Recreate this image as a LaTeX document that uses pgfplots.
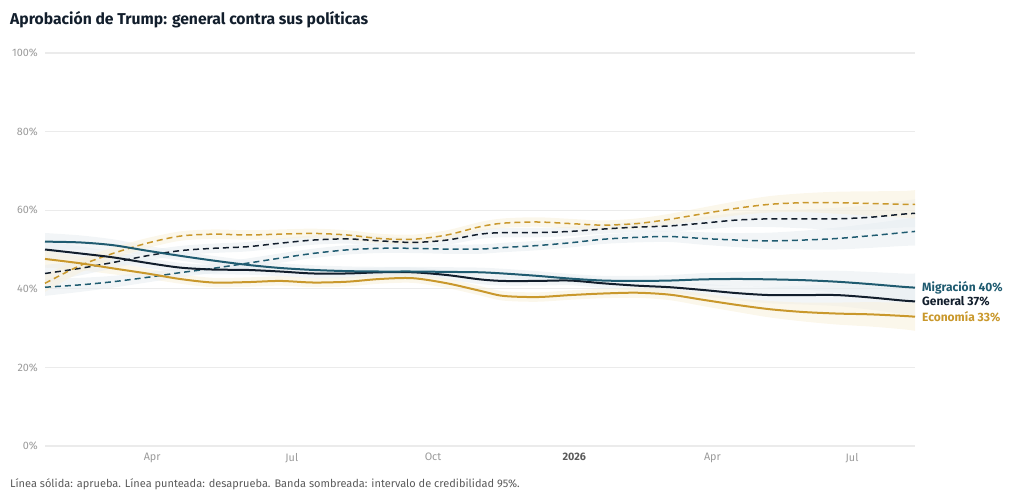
\documentclass[border=0pt]{standalone}
\usepackage{pgfplots}
\pgfplotsset{compat=1.18}
\usepackage{pgfplotstable}
\usepgfplotslibrary{fillbetween}
\usepackage{fontspec}
\setmainfont{Fira Sans}
\definecolor{teal}{HTML}{1F5B70}
\definecolor{navy}{HTML}{121E2C}
\definecolor{gold}{HTML}{C9982C}
\definecolor{gridc}{HTML}{EBEBEB}
\definecolor{tickc}{HTML}{9A9A9A}
\definecolor{footc}{HTML}{5A5A5A}
\definecolor{bandb}{HTML}{E6ECF0}
\definecolor{bandg}{HTML}{F8EFD8}

\pgfplotstableread{
d     mig  gen  eco  migd gend ecod w
20.2  52.0 50.0 47.6 40.4 43.9 41.4 2.2
43.0  51.8 49.0 46.5 41.0 45.2 45.9 1.8
64.5  51.1 48.0 45.2 41.8 46.7 49.0 1.5
86.6  49.7 46.6 43.9 42.9 48.4 51.6 1.3
108.1 48.4 45.4 42.5 44.1 49.7 53.4 1.2
129.6 47.2 44.9 41.6 45.2 50.3 53.9 1.2
151.8 46.1 44.8 41.7 46.5 50.7 53.7 1.2
173.3 45.3 44.4 42.0 47.8 51.6 53.9 1.2
194.8 44.8 43.9 41.6 49.0 52.4 54.1 1.2
216.9 44.5 43.9 41.8 49.9 52.7 53.7 1.2
238.4 44.4 44.2 42.5 50.3 52.2 52.8 1.2
259.9 44.4 44.2 42.7 50.3 51.8 52.6 1.2
282.1 44.3 43.5 41.4 50.1 52.4 53.7 1.2
303.6 44.2 42.4 39.5 50.1 53.9 55.8 1.2
318.6 43.9 42.0 38.2 50.5 54.3 56.7 1.2
340.7 43.3 42.0 37.9 51.0 54.3 57.0 1.2
362.2 42.6 42.1 38.4 51.7 54.6 56.6 1.2
383.7 42.1 41.4 38.8 52.6 55.2 56.2 1.2
405.9 42.0 40.8 39.0 53.1 55.7 56.6 1.3
427.4 42.1 40.4 38.5 53.3 56.0 57.7 1.4
448.9 42.4 39.7 37.2 52.8 56.7 59.1 1.6
471.0 42.5 38.9 35.9 52.4 57.5 60.5 1.8
492.5 42.4 38.4 34.8 52.2 57.8 61.5 2.1
514.0 42.2 38.4 34.1 52.4 57.8 61.9 2.4
536.2 41.8 38.4 33.7 52.8 57.8 61.9 2.8
557.7 41.2 37.8 33.5 53.5 58.2 61.7 3.1
579.2 40.5 37.0 33.1 54.3 59.0 61.5 3.4
587.0 40.3 36.8 32.9 54.6 59.2 61.5 3.6
}\data

\begin{document}
\begin{tikzpicture}[x=1pt,y=1pt]
\path (0,0) rectangle (1034,-500);
\node[anchor=west, inner sep=0pt, font=\fontsize{15.7}{18}\selectfont\bfseries, text=navy] at (10,-20) {Aprobación de Trump: general contra sus políticas};
\node[anchor=west, inner sep=0pt, font=\fontsize{11}{13}\selectfont, text=footc] at (10,-484) {Línea sólida: aprueba. Línea punteada: desaprueba. Banda sombreada: intervalo de credibilidad 95\%.};
\begin{axis}[
  at={(45pt,-446pt)}, anchor=south west,
  scale only axis, width=870pt, height=393pt,
  xmin=20.2, xmax=587, ymin=0, ymax=100,
  axis line style={draw=none},
  major tick length=0pt,
  ytick={0,20,40,60,80,100},
  yticklabels={0\%,20\%,40\%,60\%,80\%,100\%},
  xtick={90,181,273,365,455,546},
  xticklabels={Apr,Jul,Oct,{\textcolor{footc}{\bfseries 2026}},Apr,Jul},
  ymajorgrids, major grid style={draw=gridc, line width=1.2pt},
  tick label style={font=\fontsize{10.8}{12}\selectfont, text=tickc},
  yticklabel style={anchor=east, inner sep=0pt, xshift=-7pt},
  xticklabel style={anchor=north, inner sep=0pt, yshift=-7pt},
  clip=false,
]
% bands
\addplot[draw=none, smooth, name path=mu] table[x=d, y expr=\thisrow{mig}+\thisrow{w}] {\data};
\addplot[draw=none, smooth, name path=ml] table[x=d, y expr=\thisrow{mig}-\thisrow{w}] {\data};
\addplot[bandb, fill opacity=0.5] fill between[of=mu and ml];
\addplot[draw=none, smooth, name path=gu] table[x=d, y expr=\thisrow{gen}+\thisrow{w}] {\data};
\addplot[draw=none, smooth, name path=gl] table[x=d, y expr=\thisrow{gen}-\thisrow{w}] {\data};
\addplot[bandb, fill opacity=0.5] fill between[of=gu and gl];
\addplot[draw=none, smooth, name path=eu] table[x=d, y expr=\thisrow{eco}+\thisrow{w}] {\data};
\addplot[draw=none, smooth, name path=el] table[x=d, y expr=\thisrow{eco}-\thisrow{w}] {\data};
\addplot[bandg, fill opacity=0.5] fill between[of=eu and el];
\addplot[draw=none, smooth, name path=mdu] table[x=d, y expr=\thisrow{migd}+\thisrow{w}] {\data};
\addplot[draw=none, smooth, name path=mdl] table[x=d, y expr=\thisrow{migd}-\thisrow{w}] {\data};
\addplot[bandb, fill opacity=0.5] fill between[of=mdu and mdl];
\addplot[draw=none, smooth, name path=gdu] table[x=d, y expr=\thisrow{gend}+\thisrow{w}] {\data};
\addplot[draw=none, smooth, name path=gdl] table[x=d, y expr=\thisrow{gend}-\thisrow{w}] {\data};
\addplot[bandb, fill opacity=0.5] fill between[of=gdu and gdl];
\addplot[draw=none, smooth, name path=edu] table[x=d, y expr=\thisrow{ecod}+\thisrow{w}] {\data};
\addplot[draw=none, smooth, name path=edl] table[x=d, y expr=\thisrow{ecod}-\thisrow{w}] {\data};
\addplot[bandg, fill opacity=0.5] fill between[of=edu and edl];
% dashed disapprove
\addplot[teal, line width=1.5pt, dash pattern=on 6pt off 4pt, smooth, mark=none] table[x=d, y=migd] {\data};
\addplot[navy, line width=1.5pt, dash pattern=on 6pt off 4pt, smooth, mark=none] table[x=d, y=gend] {\data};
\addplot[gold, line width=1.5pt, dash pattern=on 6pt off 4pt, smooth, mark=none] table[x=d, y=ecod] {\data};
% solid approve
\addplot[gold, line width=2pt, smooth, mark=none] table[x=d, y=eco] {\data};
\addplot[navy, line width=2pt, smooth, mark=none] table[x=d, y=gen] {\data};
\addplot[teal, line width=2pt, smooth, mark=none] table[x=d, y=mig] {\data};
% end labels
\node[anchor=west, inner sep=0pt, xshift=7pt, font=\fontsize{12}{14}\selectfont\bfseries, text=teal] at (axis cs:587,40.3) {Migración 40\%};
\node[anchor=west, inner sep=0pt, xshift=7pt, font=\fontsize{12}{14}\selectfont\bfseries, text=navy] at (axis cs:587,36.8) {General 37\%};
\node[anchor=west, inner sep=0pt, xshift=7pt, font=\fontsize{12}{14}\selectfont\bfseries, text=gold] at (axis cs:587,32.9) {Economía 33\%};
\end{axis}
\end{tikzpicture}
\end{document}
